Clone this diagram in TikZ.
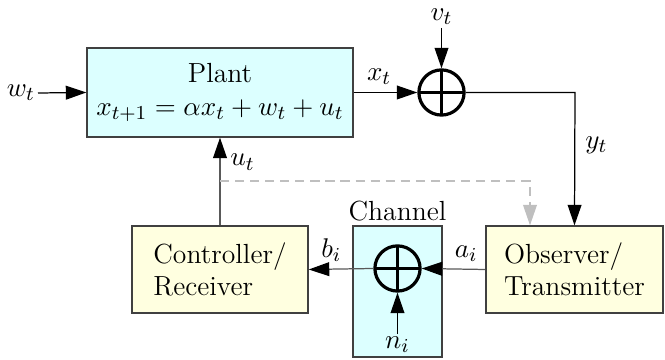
\documentclass[tikz,border=0pt]{standalone}
\usetikzlibrary{arrows.meta}
\definecolor{cyanbox}{RGB}{220,255,255}
\definecolor{yelbox}{RGB}{255,255,224}
\begin{document}
\begin{tikzpicture}[x=0.405pt,y=-0.405pt,
  font=\fontsize{11.2pt}{13pt}\selectfont,
  >={Triangle[length=8.3pt,width=5.6pt]},
  blk/.style={draw=black!75, line width=0.6pt, inner sep=0pt},
  sumnode/.style={circle, draw, line width=1.3pt, minimum size=18.3pt, inner sep=0pt,
    path picture={\draw[line width=1.3pt] (path picture bounding box.north) -- (path picture bounding box.south)
      (path picture bounding box.west) -- (path picture bounding box.east);}},
  conn/.style={line width=0.5pt, ->},
  gconn/.style={line width=0.5pt, draw=black!65, -{Triangle[length=8.3pt,width=5.6pt,color=black]}},
  lbl/.style={inner sep=1pt}]
\useasboundingbox (0,0) rectangle (665,360);
% boxes
\node[blk, fill=cyanbox, minimum width=107.7pt, minimum height=36pt, align=center] (plant) at (220,92.5)
  {Plant\\ $x_{t+1}=\alpha x_t + w_t + u_t$};
\node[blk, fill=yelbox, minimum width=71.7pt, minimum height=35.2pt, align=left] (obs) at (574.5,269.5)
  {Observer/\\Transmitter};
\node[blk, fill=yelbox, minimum width=71.3pt, minimum height=35.2pt, align=left] (ctrl) at (220,269.5)
  {Controller/\\Receiver};
\node[blk, fill=cyanbox, minimum width=36pt, minimum height=53pt] (chan) at (397.5,291.5) {};
\node[anchor=base, inner sep=0pt] (chanlbl) at (397.5,221) {Channel};
% sums
\node[sumnode] (s1) at (441.5,92.5) {};
\node[sumnode] (s2) at (397.5,268.5) {};
% external labels
\node[lbl, anchor=east] (w) at (38,93) {$w_t$};
\node[lbl] (v) at (441.5,17) {$v_t$};
\node[lbl] (n) at (397.5,345) {$n_i$};
\coordinate (yc) at (575,92.5);
\coordinate (dl) at (220,181);
\coordinate (dr) at (530,181);
% connectors
\draw[conn] (w.east) -- (plant.west);
\draw[conn] (plant.east) -- node[above, lbl, pos=0.4, yshift=2pt] (xl) {$x_t$} (s1.west);
\draw[conn] (v.south) -- (s1.north);
\draw[conn] (s1.east) -- (yc) -- node[right, lbl, pos=0.4, xshift=3pt] (yl) {$y_t$} (obs.north);
\draw[gconn] (ctrl.north) -- node[right, lbl, pos=0.72, xshift=3pt] (ul) {$u_t$} (plant.south);
\draw[line width=0.5pt, draw=black!25, dash pattern=on 3.7pt off 2.4pt, -{Triangle[length=8.3pt,width=5.6pt,color=black!25]}]
  (dl) -- (dr) -- (dr |- obs.north);
\draw[gconn] (obs.west) -- node[above, lbl, pos=0.3, yshift=2pt] (al) {$a_i$} (s2.east);
\draw[gconn] (s2.west) -- node[above, lbl, pos=0.65, yshift=2pt] (bl) {$b_i$} (ctrl.east);
\draw[conn] (n.north) -- (s2.south);
\end{tikzpicture}
\end{document}
